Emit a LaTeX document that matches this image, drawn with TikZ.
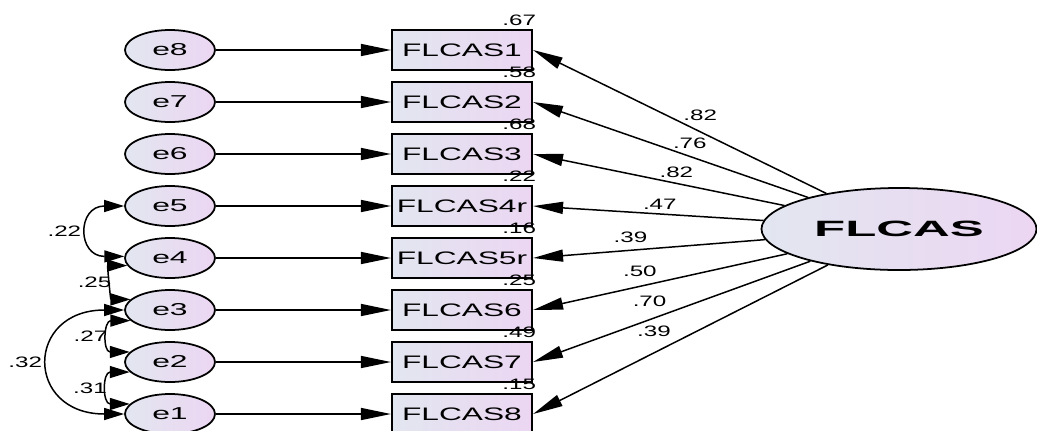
\documentclass[tikz,border=0pt]{standalone}
\usepackage{fontspec}
\setmainfont{Liberation Sans}
\newfontfamily\obsfont{Liberation Sans}[FakeStretch=1.75]
\newfontfamily\errfont{Liberation Sans}[FakeStretch=1.85]
\newfontfamily\numfont{Liberation Sans}[FakeStretch=1.6]
\newfontfamily\latfont{Liberation Sans}[FakeStretch=2.3]
\usepackage{tikz}
\usetikzlibrary{positioning,arrows.meta,shapes.geometric}
\definecolor{shadeL}{RGB}{226,230,240}
\definecolor{shadeR}{RGB}{236,214,242}

\begin{document}
\begin{tikzpicture}[
			x=0.2mm, y=-0.2mm,
			node distance={10.4mm},
			err/.style = {draw, ellipse, line width=1pt, minimum width=18mm, minimum height=8mm, inner sep=0pt, left color=shadeL, right color=shadeR, font=\errfont\fontsize{9.8}{11}\selectfont},
			obs/.style = {draw, rectangle, line width=1.2pt, minimum width=28mm, minimum height=8mm, inner sep=0pt, left color=shadeL, right color=shadeR, font=\obsfont\fontsize{10.3}{12}\selectfont},
			lat/.style = {draw, ellipse, line width=1pt, minimum width=55mm, minimum height=16.4mm, inner sep=0pt, left color=shadeL, right color=shadeR, font=\latfont\bfseries\fontsize{12.6}{14}\selectfont},
			num/.style = {inner sep=1pt, font=\numfont\fontsize{8.6}{10}\selectfont},
			arr/.style = {-{Triangle[length=6mm, width=2.4mm]}, line width=0.85pt},
			cov/.style = {{Triangle[length=4mm, width=2.4mm]}-{Triangle[length=4mm, width=2.4mm]}, line width=0.85pt}
		]
		\useasboundingbox (0,0) rectangle (1037,430);
		\node[err] (e8) at (170,50) {e8};
		\node[err] (e7) [below of=e8] {e7};
		\node[err] (e6) [below of=e7] {e6};
		\node[err] (e5) [below of=e6] {e5};
		\node[err] (e4) [below of=e5] {e4};
		\node[err] (e3) [below of=e4] {e3};
		\node[err] (e2) [below of=e3] {e2};
		\node[err] (e1) [below of=e2] {e1};
		\node[obs] (b1) at (462,50) {FLCAS1};
		\node[obs] (b2) [below of=b1] {FLCAS2};
		\node[obs] (b3) [below of=b2] {FLCAS3};
		\node[obs] (b4) [below of=b3] {FLCAS4r};
		\node[obs] (b5) [below of=b4] {FLCAS5r};
		\node[obs] (b6) [below of=b5] {FLCAS6};
		\node[obs] (b7) [below of=b6] {FLCAS7};
		\node[obs] (b8) [below of=b7] {FLCAS8};
		\node[lat] (F) at (899,229) {FLCAS};
		% Squared multiple correlations.
		\node[num, anchor=south east, xshift=1mm, yshift=0.3mm] (r1) at (b1.north east) {.67};
		\node[num, anchor=south east, xshift=1mm, yshift=0.3mm] (r2) at (b2.north east) {.58};
		\node[num, anchor=south east, xshift=1mm, yshift=0.3mm] (r3) at (b3.north east) {.68};
		\node[num, anchor=south east, xshift=1mm, yshift=0.3mm] (r4) at (b4.north east) {.22};
		\node[num, anchor=south east, xshift=1mm, yshift=0.3mm] (r5) at (b5.north east) {.16};
		\node[num, anchor=south east, xshift=1mm, yshift=0.3mm] (r6) at (b6.north east) {.25};
		\node[num, anchor=south east, xshift=1mm, yshift=0.3mm] (r7) at (b7.north east) {.49};
		\node[num, anchor=south east, xshift=1mm, yshift=0.3mm] (r8) at (b8.north east) {.15};
		% Draw the error terms.
		\draw[arr] (e8) to (b1);
		\draw[arr] (e7) to (b2);
		\draw[arr] (e6) to (b3);
		\draw[arr] (e5) to (b4);
		\draw[arr] (e4) to (b5);
		\draw[arr] (e3) to (b6);
		\draw[arr] (e2) to (b7);
		\draw[arr] (e1) to (b8);
		% Draw the loadings.
		\draw[arr] (F) to node[num, above=5pt, pos=0.43] {.82} (b1.east);
		\draw[arr] (F) to node[num, above=3pt, pos=0.43] {.76} (b2.east);
		\draw[arr] (F) to node[num, above=2pt, pos=0.43] {.82} (b3.east);
		\draw[arr] (F) to node[num, above=1pt, pos=0.45] {.47} (b4.east);
		\draw[arr] (F) to node[num, above=3pt, pos=0.58] {.39} (b5.east);
		\draw[arr] (F) to node[num, above=4pt, pos=0.58] {.50} (b6.east);
		\draw[arr] (F) to node[num, above=6pt, pos=0.58] {.70} (b7.east);
		\draw[arr] (F) to node[num, above=8pt, pos=0.59] {.39} (b8.east);
		% Draw the covariances.
		\draw[cov] (e5.180) to [out=180, in=180, looseness=2.4] node[num, left, xshift=-1mm] {.22} (e4.178);
		\draw[cov] (e4.190) to [out=180, in=180, looseness=1.5] node[num, left] {.25} (e3.165);
		\draw[cov] (e3.195) to [out=180, in=180, looseness=2.2] node[num, left] {.27} (e2.166);
		\draw[cov] (e2.194) to [out=180, in=180, looseness=2.2] node[num, left] {.31} (e1.166);
		\draw[cov] (e3.180) to [out=180, in=180, looseness=2.45] node[num, left, xshift=-1mm] {.32} (e1.180);
	\end{tikzpicture}
\end{document}
